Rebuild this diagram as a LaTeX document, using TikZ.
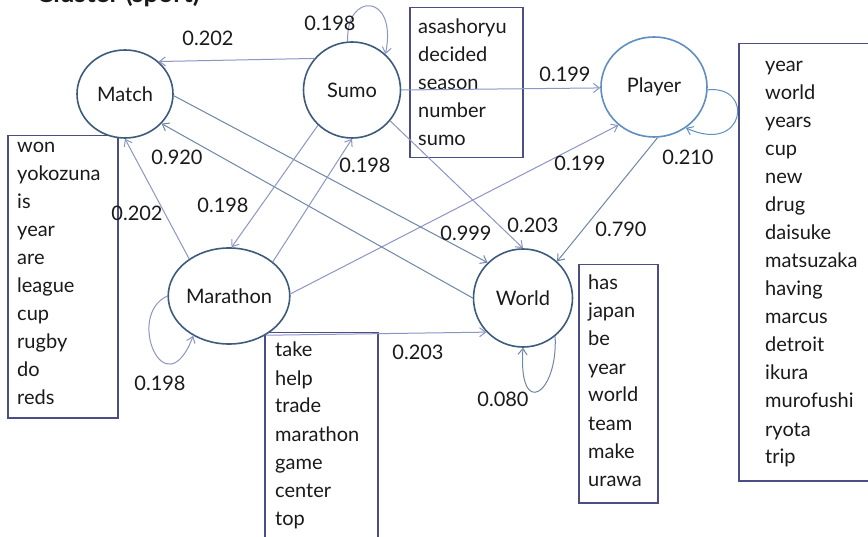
\documentclass[tikz,border=0pt]{standalone}
\usepackage{fontspec}
\setmainfont{Lato}
\usetikzlibrary{arrows.meta,shapes.geometric}

\definecolor{nodeline}{HTML}{3D5B7C}
\definecolor{playerline}{HTML}{5E8FBF}
\definecolor{edgelight}{HTML}{8C96C4}
\definecolor{edgedark}{HTML}{6F86A6}
\definecolor{boxline}{HTML}{4B4E85}
\definecolor{textcol}{HTML}{1A1A1A}

\tikzset{
  topic/.style={ellipse, draw=nodeline, fill=white, line width=1.6pt, inner sep=0pt,
    font=\fontsize{20}{24}\selectfont, text=textcol},
  edge/.style={draw=edgelight, line width=1pt,
    -{Straight Barb[length=6pt,width=9pt,line width=1pt]}},
  darkedge/.style={edge, draw=edgedark},
  weight/.style={font=\fontsize{20}{24}\selectfont, text=textcol, inner sep=0pt},
  wordbox/.style={draw=boxline, line width=1.5pt, rectangle, inner sep=0pt, anchor=north west},
  word/.style={font=\fontsize{20}{24}\selectfont, text=textcol, anchor=base west, inner sep=0pt},
}

\begin{document}
\begin{tikzpicture}[x=1pt,y=1pt]
\clip (0,0) rectangle (868,-537);
\fill[white] (0,0) rectangle (868,-537);

% heading, cut by the top edge
\node[font=\fontsize{26}{30}\selectfont\bfseries, text=textcol, anchor=base east, inner sep=0pt]
  (heading) at (200,-3) {Cluster (sport)};

% word lists
\node[wordbox, minimum width=110pt, minimum height=282pt] (matchbox) at (7,-135) {};
\foreach \w [count=\i from 0] in {won,yokozuna,is,year,are,league,cup,rugby,do,reds}
  \node[word] (mw\i) at (17,{-153-28*\i}) {\w};

\node[wordbox, minimum width=113pt, minimum height=150pt] (sumobox) at (409,-7) {};
\foreach \w [count=\i from 0] in {asashoryu,decided,season,number,sumo}
  \node[word] (sw\i) at (418,{-34-28*\i}) {\w};

\node[wordbox, minimum width=150pt, minimum height=437pt] (playerbox) at (738,-43) {};
\foreach \w [count=\i from 0] in {year,world,years,cup,new,drug,daisuke,matsuzaka,having,marcus,detroit,ikura,murofushi,ryota,trip}
  \node[word] (pw\i) at (765,{-72-28*\i}) {\w};

\node[wordbox, minimum width=113pt, minimum height=220pt] (marathonbox) at (264,-332) {};
\foreach \w [count=\i from 0] in {take,help,trade,marathon,game,center,top}
  \node[word] (rw\i) at (275,{-357-28*\i}) {\w};

\node[wordbox, minimum width=79pt, minimum height=238pt] (worldbox) at (578,-264) {};
\foreach \w [count=\i from 0] in {has,japan,be,year,world,team,make,urawa}
  \node[word] (ww\i) at (588,{-290-28*\i}) {\w};

% topics
\node[topic, minimum width=96pt, minimum height=88pt] (match) at (125,-94) {Match};
\node[topic, minimum width=97pt, minimum height=96pt] (sumo) at (352,-90) {Sumo};
\node[topic, draw=playerline, minimum width=106pt, minimum height=100pt] (player) at (654,-87) {Player};
\node[topic, minimum width=114pt, minimum height=96pt] (marathon) at (229,-296) {Marathon};
\node[topic, minimum width=99pt, minimum height=98pt] (world) at (523,-298) {World};

% transitions
\draw[edge] (sumo.140) -- (match.44);
\draw[edge] (sumo.95) .. controls (345,8) and (398,8) .. (sumo.47);
\draw[edge] (sumo.east) -- (player.181);
\draw[darkedge, draw=playerline] (player.-3) .. controls (755,-85) and (745,-155) .. (player.-52);
\draw[darkedge] (player.-86) -- (world.47);
\draw[edge] (marathon.2) -- (player.227);
\draw[darkedge] (match.-2) -- (world.135);
\draw[darkedge] (world.180) -- (match.-39);
\draw[edge] (sumo.-39) -- (world.90);
\draw[edge] (sumo.226) -- (marathon.87);
\draw[edge] (marathon.38) -- (sumo.270);
\draw[edge] (marathon.137) -- (match.270);
\draw[edge] (marathon.180) .. controls (125,-315) and (165,-410) .. (marathon.228);
\draw[edge] (marathon.-47) -- (world.223);
\draw[darkedge] (world.-50) .. controls (558,-395) and (518,-420) .. (world.270);

% weights
\node[weight] (w1) at (208,-38) {0.202};
\node[weight] (w2) at (330,-23) {0.198};
\node[weight] (w3) at (565,-74) {0.199};
\node[weight] (w4) at (688,-157) {0.210};
\node[weight] (w5) at (621,-229) {0.790};
\node[weight] (w6) at (580,-163) {0.199};
\node[weight] (w7) at (466,-233) {0.999};
\node[weight] (w8) at (177,-157) {0.920};
\node[weight] (w9) at (533,-225) {0.203};
\node[weight] (w10) at (223,-205) {0.198};
\node[weight] (w11) at (365,-165) {0.198};
\node[weight] (w12) at (137,-213) {0.202};
\node[weight] (w13) at (160,-383) {0.198};
\node[weight] (w14) at (418,-352) {0.203};
\node[weight] (w15) at (503,-399) {0.080};
\end{tikzpicture}
\end{document}
